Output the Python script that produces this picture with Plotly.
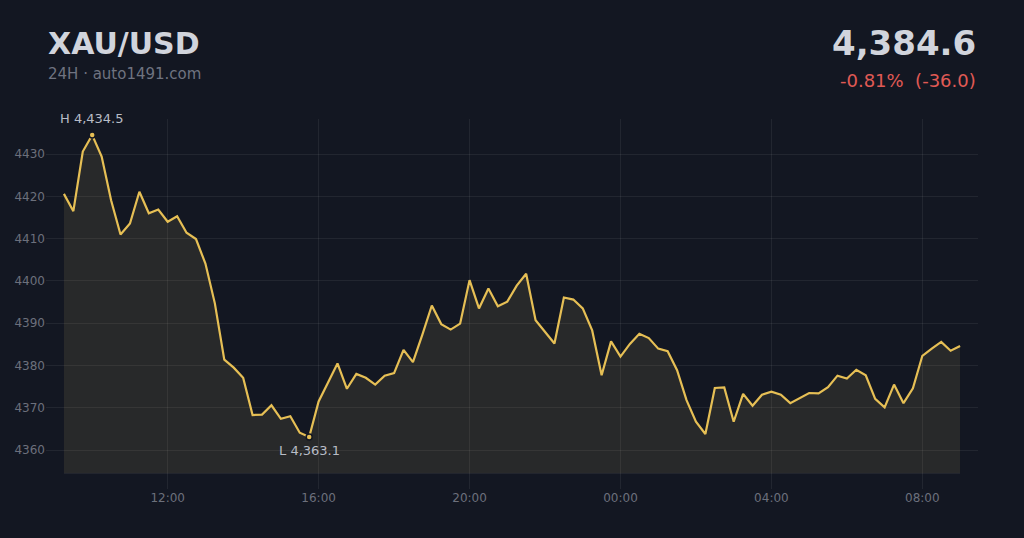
import pandas as pd
import plotly.graph_objects as go

symbol = "XAU/USD"
subtitle = "24H · auto1491.com"
start_time = "2025-01-14 09:15"
step = "15min"
prices = [
    4420.6, 4416.5, 4430.6, 4434.5, 4429.4, 4419.1, 4411.0, 4413.6, 4421.1, 4416.0,
    4416.9, 4414.0, 4415.3, 4411.4, 4409.9, 4404.1, 4394.7, 4381.4, 4379.5, 4377.1,
    4368.3, 4368.4, 4370.6, 4367.4, 4368.0, 4364.1, 4363.1, 4371.5, 4376.0, 4380.5,
    4374.5, 4378.0, 4377.1, 4375.5, 4377.6, 4378.2, 4383.7, 4380.8, 4387.3, 4394.2,
    4389.8, 4388.5, 4389.9, 4400.2, 4393.5, 4398.2, 4394.0, 4395.1, 4398.9, 4401.7,
    4390.7, 4387.9, 4385.2, 4396.1, 4395.6, 4393.5, 4388.3, 4377.7, 4385.7, 4382.1,
    4385.1, 4387.5, 4386.5, 4384.0, 4383.4, 4378.9, 4371.8, 4366.7, 4363.8, 4374.7,
    4374.8, 4366.7, 4373.3, 4370.5, 4373.1, 4373.8, 4373.1, 4371.1, 4372.3, 4373.5,
    4373.4, 4374.9, 4377.6, 4376.9, 4379.0, 4377.7, 4372.1, 4370.1, 4375.5, 4371.1,
    4374.6, 4382.3, 4384.0, 4385.6, 4383.5, 4384.6,
]
y_ticks = [4360, 4370, 4380, 4390, 4400, 4410, 4420, 4430]
baseline_value = 4354.5
y_range = [4350.8, 4438.3]
x_range = ["2025-01-14 08:46:30", "2025-01-15 09:28:30"]

times = pd.date_range(start=start_time, periods=len(prices), freq=step)

BG = "#131722"
GOLD = "#E6BF55"
GRID = "rgba(255,255,255,0.065)"
TICK = "#6c707c"

last = prices[-1]
first = prices[0]
chg = last - first
pct = chg / first * 100

hi_i = max(range(len(prices)), key=lambda i: prices[i])
lo_i = min(range(len(prices)), key=lambda i: prices[i])

fig = go.Figure()
fig.add_trace(go.Scatter(
    x=times, y=[baseline_value] * len(prices), mode="lines",
    line=dict(color="rgba(255,255,255,0.06)", width=1),
    hoverinfo="skip", showlegend=False,
))
fig.add_trace(go.Scatter(
    x=times, y=prices, mode="lines",
    line=dict(color=GOLD, width=2.2),
    fill="tonexty", fillcolor="rgba(215,190,110,0.11)",
    hoverinfo="skip", showlegend=False,
))
fig.add_trace(go.Scatter(
    x=[times[hi_i], times[lo_i]], y=[prices[hi_i], prices[lo_i]], mode="markers",
    marker=dict(color=GOLD, size=6, line=dict(color=BG, width=1.5)),
    hoverinfo="skip", showlegend=False,
))

ann = [
    dict(text=f"H {prices[hi_i]:,.1f}", x=times[hi_i], y=prices[hi_i], xref="x", yref="y",
         showarrow=False, yanchor="bottom", yshift=7, font=dict(size=13, color="#b8bcc6")),
    dict(text=f"L {prices[lo_i]:,.1f}", x=times[lo_i], y=prices[lo_i], xref="x", yref="y",
         showarrow=False, yanchor="top", yshift=-4, font=dict(size=13, color="#b8bcc6")),
    dict(text=f"<b>{symbol}</b>", x=0, y=1.2054, xref="paper", yref="paper",
         xanchor="left", yanchor="middle", showarrow=False,
         font=dict(size=30, color="#d1d4dc")),
    dict(text=subtitle, x=0, y=1.1222, xref="paper", yref="paper",
         xanchor="left", yanchor="middle", showarrow=False,
         font=dict(size=15, color="#6f7380")),
    dict(text=f"<b>{last:,.1f}</b>", x=1, y=1.2049, xref="paper", yref="paper",
         xanchor="right", yanchor="middle", showarrow=False,
         font=dict(size=34, color="#d1d4dc")),
    dict(text=f"{pct:+.2f}%\u00a0\u00a0({chg:+.1f})", x=1, y=1.1051, xref="paper", yref="paper",
         xanchor="right", yanchor="middle", showarrow=False,
         font=dict(size=18, color="#e05a55")),
]

fig.update_layout(
    width=1024, height=538,
    margin=dict(l=46, r=46, t=119, b=49),
    paper_bgcolor=BG, plot_bgcolor=BG,
    font=dict(family="DejaVu Sans", size=12, color=TICK),
    annotations=ann,
    showlegend=False,
)
fig.update_xaxes(
    range=x_range, type="date", dtick=4 * 3600 * 1000, tick0="2025-01-14 00:00",
    tickformat="%H:%M", showgrid=True, gridcolor=GRID, gridwidth=1,
    zeroline=False, showline=False, ticks="", tickfont=dict(size=12, color=TICK),
)
fig.update_yaxes(
    range=y_range, tickvals=y_ticks, ticktext=[str(v) for v in y_ticks],
    showgrid=True, gridcolor=GRID, gridwidth=1,
    zeroline=False, showline=False, ticks="", tickfont=dict(size=12, color=TICK),
)

fig.write_html(
    "out.html",
    config={"displayModeBar": False},
    post_script="document.body.style.margin='0';document.body.style.background='#131722';",
)
